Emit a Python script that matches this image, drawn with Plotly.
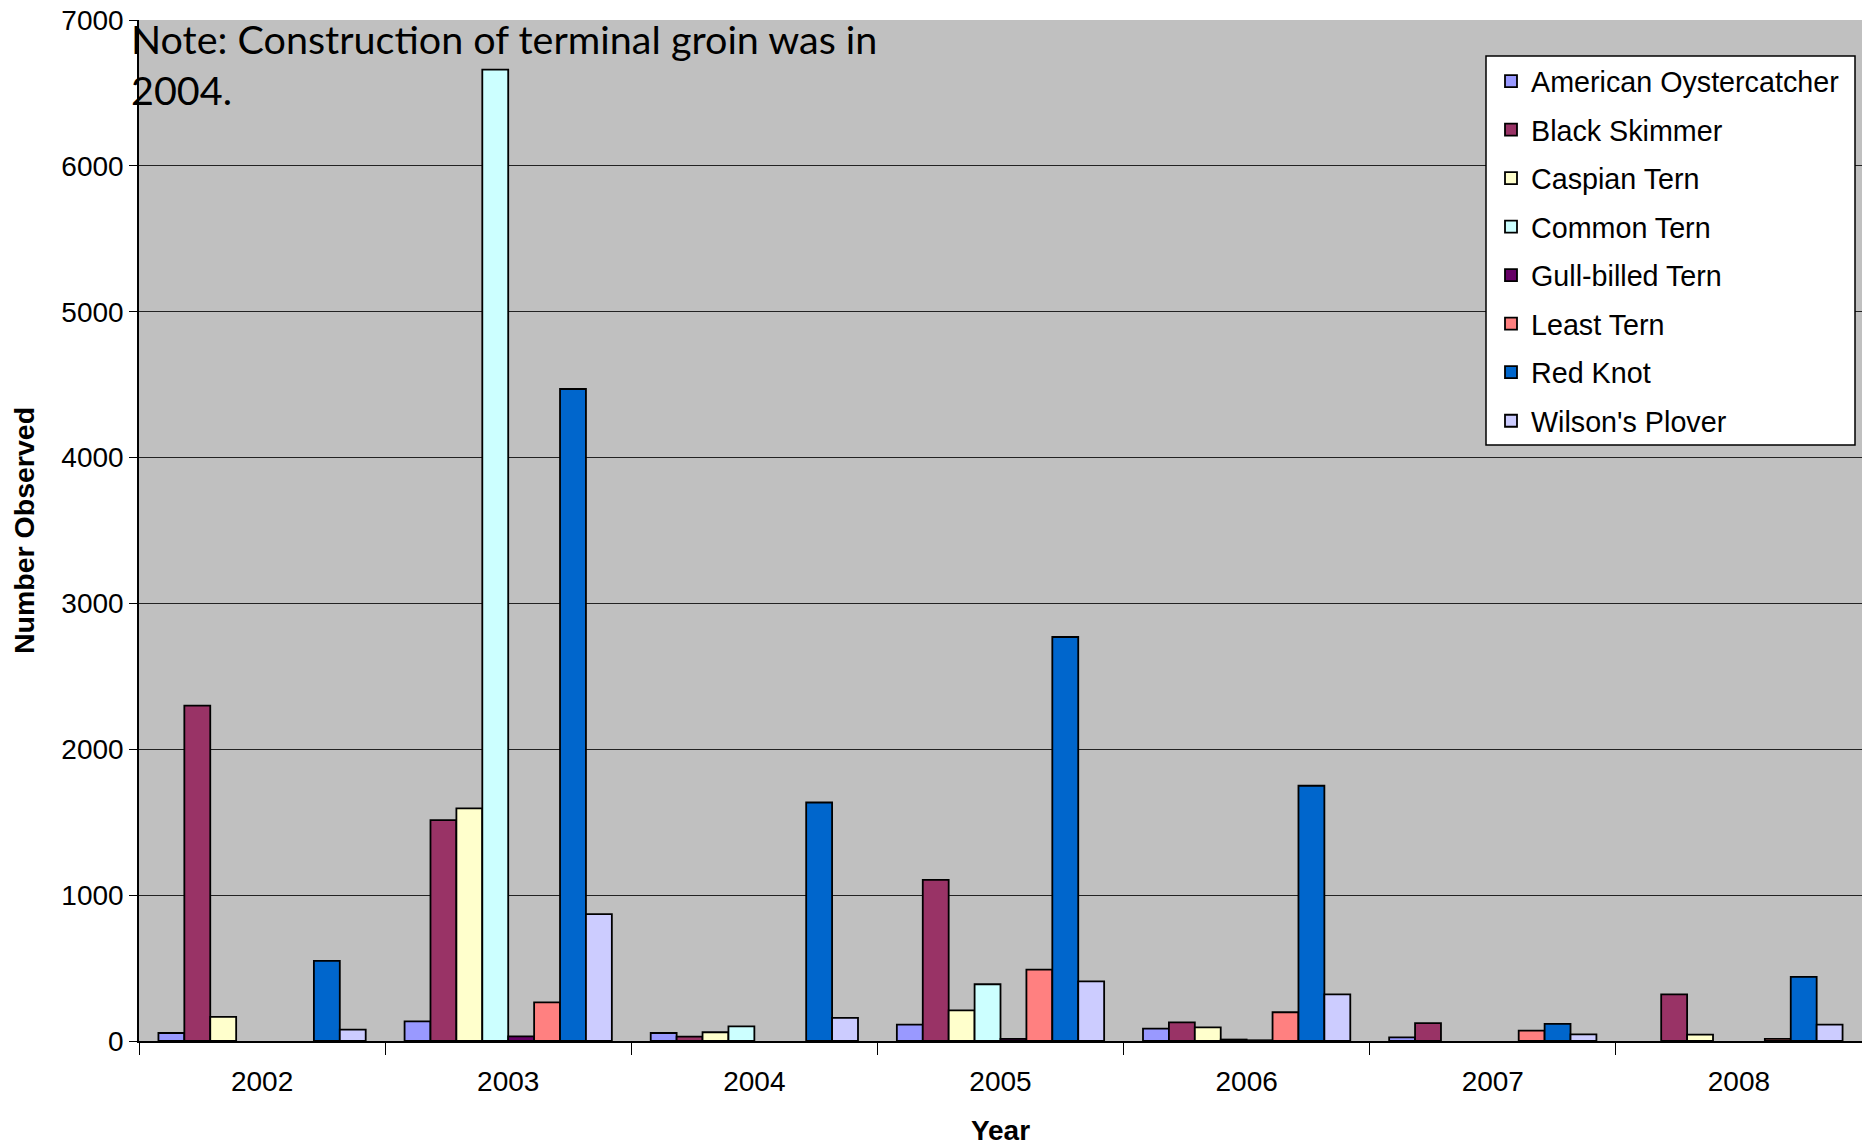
import plotly.graph_objects as go

years = ["2002", "2003", "2004", "2005", "2006", "2007", "2008"]

american_oystercatcher = [55, 135, 55, 112, 85, 25, 0]
black_skimmer = [2300, 1515, 30, 1105, 128, 123, 320]
caspian_tern = [165, 1595, 60, 210, 94, 0, 44]
common_tern = [0, 6660, 100, 389, 10, 0, 0]
gull_billed_tern = [0, 32, 0, 15, 5, 0, 0]
least_tern = [0, 265, 0, 490, 197, 71, 15]
red_knot = [550, 4470, 1635, 2770, 1750, 117, 439]
wilsons_plover = [78, 870, 158, 409, 320, 46, 112]

series = [
    ("American Oystercatcher", american_oystercatcher, "#9999FF"),
    ("Black Skimmer", black_skimmer, "#993366"),
    ("Caspian Tern", caspian_tern, "#FFFFCC"),
    ("Common Tern", common_tern, "#CCFFFF"),
    ("Gull-billed Tern", gull_billed_tern, "#660066"),
    ("Least Tern", least_tern, "#FF8080"),
    ("Red Knot", red_knot, "#0066CC"),
    ("Wilson's Plover", wilsons_plover, "#CCCCFF"),
]

fig = go.Figure()
for name, vals, color in series:
    # zero counts are not drawn (no outline stub on the baseline)
    fig.add_trace(go.Bar(
        x=years, y=[v if v else None for v in vals], name=name, legendgroup=name,
        marker=dict(color=color, line=dict(color="black", width=1.8)),
    ))

W, H = 1862, 1146
ml, mr, mt, mb = 139, 0, 20, 105
pw, ph = W - ml - mr, H - mt - mb

arial = "Liberation Sans, Arial, sans-serif"

# legend frame (px in page coords)
lx0, lx1, ly0, ly1 = 1486, 1855, 56, 445

fig.update_layout(
    width=W, height=H,
    margin=dict(l=ml, r=mr, t=mt, b=mb, pad=0, autoexpand=False),
    paper_bgcolor="white",
    plot_bgcolor="#C0C0C0",
    barmode="group",
    bargap=1.5 / 9.5,
    bargroupgap=0,
    font=dict(family=arial, color="black", size=28),
    showlegend=True,
    legend=dict(
        x=(lx0 + 5 - ml) / pw, y=1 - (ly0 - mt) / ph,
        xanchor="left", yanchor="top",
        bgcolor="rgba(0,0,0,0)", borderwidth=0,
        font=dict(family=arial, size=28.7, color="black"),
        tracegroupgap=8.2,
        itemclick=False,
    ),
    shapes=[dict(
        type="rect", xref="paper", yref="paper", layer="above",
        x0=(lx0 - ml) / pw, x1=(lx1 - ml) / pw,
        y0=1 - (ly1 - mt) / ph, y1=1 - (ly0 - mt) / ph,
        fillcolor="white", line=dict(color="black", width=1.5),
    )],
    xaxis=dict(
        type="category",
        automargin=False,
        tickson="boundaries",
        ticks="outside", ticklen=12, tickcolor="black", tickwidth=1,
        showline=True, linecolor="black", linewidth=1.5,
        showgrid=False,
        tickfont=dict(family=arial, size=28),
        ticklabelstandoff=15,
        title=dict(text="<b>Year</b>", font=dict(family=arial, size=28), standoff=34),
    ),
    yaxis=dict(
        range=[0, 7000], dtick=1000,
        automargin=False,
        ticks="outside", ticklen=8, tickcolor="black", tickwidth=1,
        showline=True, linecolor="black", linewidth=1.5,
        showgrid=True, gridcolor="#222222", gridwidth=1,
        tickfont=dict(family=arial, size=28),
        title=dict(text="<b>Number Observed</b>", font=dict(family=arial, size=28.5), standoff=18),
        zeroline=False,
    ),
    annotations=[dict(
        text="Note: Construction of terminal groin was in<br>2004.",
        xref="paper", yref="paper",
        x=(129 - ml) / pw, y=1 + 7 / ph,
        xanchor="left", yanchor="top", align="left",
        showarrow=False,
        font=dict(family="Lato, Carlito, Calibri, sans-serif", size=39.5, color="black"),
    )],
)

fig.write_html("out.html")
